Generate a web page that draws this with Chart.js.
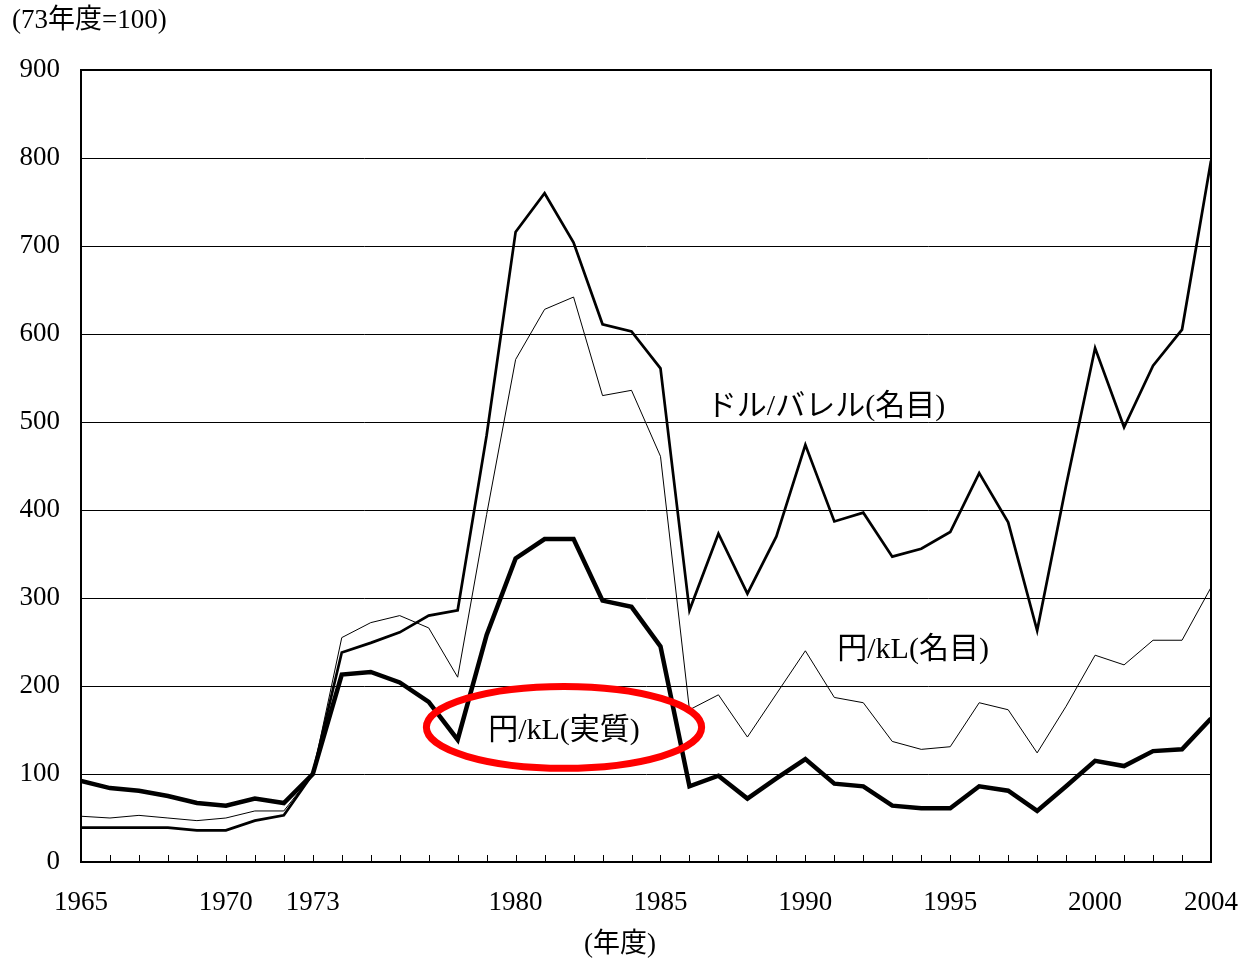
<!DOCTYPE html>
<html>
<head>
<meta charset="utf-8">
<script src="https://cdn.jsdelivr.net/npm/chart.js@4.4.1/dist/chart.umd.min.js"></script>
<style>
  html, body { margin: 0; padding: 0; background: #fff; }
  #wrap { width: 1242px; height: 960px; }
</style>
</head>
<body>
<div id="wrap"><canvas id="myChart" width="1242" height="960"></canvas></div>
<script>
const years = [
  1965, 1966, 1967, 1968, 1969, 1970, 1971, 1972, 1973, 1974,
  1975, 1976, 1977, 1978, 1979, 1980, 1981, 1982, 1983, 1984,
  1985, 1986, 1987, 1988, 1989, 1990, 1991, 1992, 1993, 1994,
  1995, 1996, 1997, 1998, 1999, 2000, 2001, 2002, 2003, 2004,
];
// ドル/バレル(名目)
const dollarPerBarrel = [
  39, 39, 39, 39, 36, 36, 47, 53, 100, 238,
  249, 261, 280, 286, 485, 716, 760, 704, 611, 603,
  561, 286, 373, 305, 370, 474, 387, 397, 347, 356,
  375, 442, 386, 263, 428, 584, 494, 564, 605, 797,
];
// 円/kL(名目)
const yenPerKlNominal = [
  52, 50, 53, 50, 47, 50, 58, 58, 100, 255,
  272, 280, 266, 210, 395, 571, 628, 642, 530, 536,
  461, 173, 190, 142, 191, 240, 187, 181, 137, 128,
  131, 181, 173, 124, 177, 235, 224, 252, 252, 312,
];
// 円/kL(実質)
const yenPerKlReal = [
  92, 84, 81, 75, 67, 64, 72, 67, 100, 213,
  216, 204, 182, 139, 258, 345, 367, 367, 297, 290,
  245, 86, 98, 72, 95, 117, 89, 86, 64, 61,
  61, 86, 81, 58, 86, 115, 109, 126, 128, 163,
];
const xTickYears = [1965, 1970, 1973, 1980, 1985, 1990, 1995, 2000, 2004];

const FONT = "'Liberation Serif', 'Noto Sans CJK JP', serif";

// 注記: 位置はデータ座標で指定
const notes = [
  { text: "ドル/バレル(名目)", x: 1986.6, y: 517, align: "left" },
  { text: "円/kL(名目)", x: 1991.1, y: 241, align: "left" },
  { text: "円/kL(実質)", x: 1981.67, y: 149, align: "center" },
];
const ring = { x: 1981.67, y: 153, rx: 4.75, ry: 46.5 };

const decor = {
  id: "decor",
  afterDatasetsDraw(chart) {
    const { ctx, chartArea: a, scales } = chart;
    const xs = scales.x, ys = scales.y;
    ctx.save();
    // 枠
    ctx.strokeStyle = "#000";
    ctx.lineWidth = 2;
    ctx.strokeRect(a.left, a.top, a.right - a.left, a.bottom - a.top);
    // 年ごとの目盛り (内向き)
    ctx.lineWidth = 1;
    ctx.beginPath();
    years.forEach((yr) => {
      const px = Math.round(xs.getPixelForValue(yr)) + 0.5;
      ctx.moveTo(px, a.bottom);
      ctx.lineTo(px, a.bottom - 7);
    });
    ctx.stroke();

    // 赤い楕円
    const cx = xs.getPixelForValue(ring.x);
    const cy = ys.getPixelForValue(ring.y);
    const rx = xs.getPixelForValue(ring.x + ring.rx) - cx;
    const ry = cy - ys.getPixelForValue(ring.y + ring.ry);
    ctx.strokeStyle = "#ff0000";
    ctx.lineWidth = 7;
    ctx.beginPath();
    ctx.ellipse(cx, cy, rx, ry, 0, 0, Math.PI * 2);
    ctx.stroke();

    // 系列名
    ctx.fillStyle = "#000";
    ctx.font = "30px " + FONT;
    ctx.textBaseline = "middle";
    notes.forEach((n) => {
      ctx.textAlign = n.align;
      ctx.fillText(n.text, xs.getPixelForValue(n.x), ys.getPixelForValue(n.y));
    });

    // 単位
    ctx.font = "27px " + FONT;
    ctx.textAlign = "left";
    ctx.fillText("(73年度=100)", 12, 21);
    ctx.textAlign = "center";
    ctx.fillText("(年度)", 620, 945);
    ctx.restore();
  },
};

new Chart(document.querySelector("#myChart"), {
  type: "line",
  data: {
    labels: years,
    datasets: [
      {
        label: "ドル/バレル(名目)",
        data: dollarPerBarrel,
        borderColor: "#000",
        borderWidth: 2.7,
      },
      {
        label: "円/kL(名目)",
        data: yenPerKlNominal,
        borderColor: "#000",
        borderWidth: 1,
      },
      {
        label: "円/kL(実質)",
        data: yenPerKlReal,
        borderColor: "#000",
        borderWidth: 4.5,
      },
    ],
  },
  options: {
    responsive: false,
    animation: false,
    elements: {
      point: { radius: 0, hoverRadius: 0 },
      line: { tension: 0, borderJoinStyle: "miter" },
    },
    layout: { padding: { top: 70, right: 31, left: 0, bottom: 0 } },
    plugins: {
      legend: { display: false },
      tooltip: { enabled: false },
    },
    scales: {
      x: {
        type: "linear",
        min: 1965,
        max: 2004,
        afterBuildTicks: (scale) => {
          scale.ticks = xTickYears.map((v) => ({ value: v }));
        },
        afterFit: (scale) => {
          scale.height = 98;
          scale.paddingLeft = 0;
          scale.paddingRight = 0;
        },
        grid: { display: false, drawTicks: false },
        border: { display: true, color: "#000", width: 2 },
        ticks: {
          autoSkip: false,
          maxRotation: 0,
          padding: 25,
          color: "#000",
          font: { family: FONT, size: 27 },
          callback: (v) => String(v),
        },
      },
      y: {
        min: 0,
        max: 900,
        afterFit: (scale) => {
          scale.width = 81;
        },
        grid: { color: "#000", lineWidth: 1, drawTicks: false },
        border: { display: true, color: "#000", width: 2 },
        ticks: {
          stepSize: 100,
          padding: 21,
          color: "#000",
          font: { family: FONT, size: 27 },
        },
      },
    },
  },
  plugins: [decor],
});
</script>
</body>
</html>
